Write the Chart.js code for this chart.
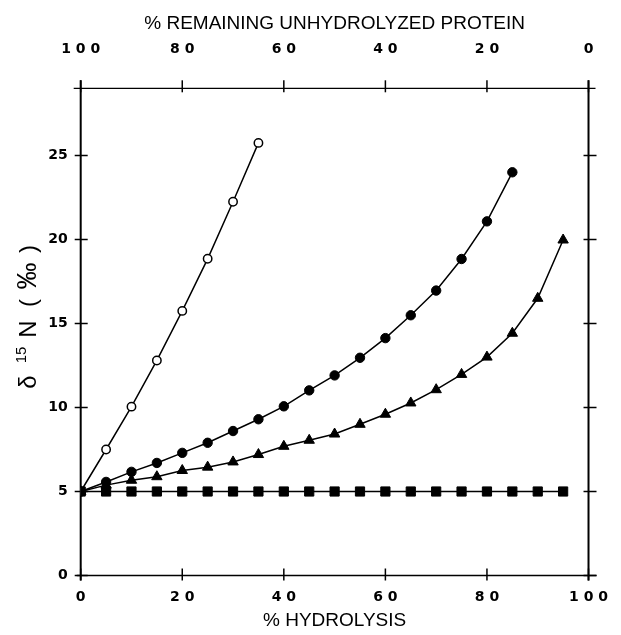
<!DOCTYPE html>
<html>
<head>
<meta charset="utf-8">
<script src="https://cdn.jsdelivr.net/npm/chart.js@4.4.0/dist/chart.umd.min.js"></script>
<style>
  html, body { margin: 0; padding: 0; background: #fff; }
</style>
</head>
<body>
<canvas id="chart" width="621" height="635"></canvas>
<script>
// % hydrolysis sampled every 5 %
var hydrolysis = [0, 5, 10, 15, 20, 25, 30, 35, 40, 45, 50, 55, 60, 65, 70, 75, 80, 85, 90, 95];

// d15N of the four curves
var openCircles = [5, 7.5, 10.05, 12.8, 15.75, 18.85, 22.25, 25.75];
var filledCircles = [5, 5.57, 6.17, 6.7, 7.3, 7.9, 8.6, 9.3, 10.07, 11.02, 11.91, 12.96, 14.13, 15.49, 16.96, 18.84, 21.08, 24.0];
var triangles = [5, 5.38, 5.67, 5.88, 6.25, 6.45, 6.76, 7.2, 7.69, 8.05, 8.42, 9.0, 9.6, 10.27, 11.06, 11.97, 13.0, 14.42, 16.5, 19.97];
var squares = [5, 5, 5, 5, 5, 5, 5, 5, 5, 5, 5, 5, 5, 5, 5, 5, 5, 5, 5, 5];

var xTicks = [0, 20, 40, 60, 80, 100];
var yTicks = [0, 5, 10, 15, 20, 25];

function points(ys) {
    return ys.map(function (y, i) { return { x: hydrolysis[i], y: y }; });
}

// "100" -> "1 0 0", like the original lettering
function spaced(v) {
    return String(v).split('').join(' ');
}

function series(ys, style, radius, fill) {
    return {
        data: points(ys),
        borderColor: '#000',
        borderWidth: 1.5,
        tension: 0,
        fill: false,
        pointStyle: style,
        pointRadius: radius,
        pointBackgroundColor: fill,
        pointBorderColor: '#000',
        pointBorderWidth: style === 'circle' && fill === '#fff' ? 1.5 : 1
    };
}

var tickFont = { family: 'DejaVu Sans', weight: 'bold', size: 14 };
var titleFont = { family: 'Liberation Sans', size: 19, lineHeight: 1.2 };

// axis frame with ticks crossing the lines
var frameTicks = {
    id: 'frameTicks',
    beforeDatasetsDraw: function (chart) {
        var ctx = chart.ctx, a = chart.chartArea, s = chart.scales;
        function seg(x1, y1, x2, y2) {
            ctx.beginPath(); ctx.moveTo(x1, y1); ctx.lineTo(x2, y2); ctx.stroke();
        }
        ctx.save();
        ctx.strokeStyle = '#000';
        ctx.lineWidth = 2;
        seg(a.left, a.top - 8, a.left, a.bottom + 5);
        seg(a.right, a.top - 8, a.right, a.bottom + 5);
        ctx.lineWidth = 1.3;
        seg(a.left - 7, a.top, a.right + 7, a.top);
        ctx.lineWidth = 1.7;
        seg(a.left - 4, a.bottom, a.right + 8, a.bottom);

        ctx.lineWidth = 1.5;
        s.x.ticks.forEach(function (t) {
            var px = s.x.getPixelForValue(t.value);
            seg(px, a.bottom - 7, px, a.bottom + 5);
        });
        s.x2.ticks.forEach(function (t) {
            var px = s.x2.getPixelForValue(t.value);
            seg(px, a.top - 8, px, a.top + 4);
        });
        s.y.ticks.forEach(function (t) {
            var py = s.y.getPixelForValue(t.value);
            seg(a.left - 6, py, a.left + 7, py);
        });
        s.y2.ticks.forEach(function (t) {
            var py = s.y2.getPixelForValue(t.value);
            seg(a.right - 5, py, a.right + 8, py);
        });
        ctx.restore();
    }
};

// rotated y title with the superscript mass number
var yTitle = {
    id: 'yTitle',
    afterDraw: function (chart) {
        var ctx = chart.ctx;
        var parts = [
            { t: 'δ', size: 24, at: 382, up: 0 },
            { t: '15', size: 15, at: 355, up: 10 },
            { t: 'N', size: 24, at: 329, up: 0 },
            { t: '(', size: 24, at: 303, up: 0 },
            { t: '‰', size: 27, at: 276, up: 0 },
            { t: ')', size: 24, at: 249, up: 0 }
        ];
        ctx.save();
        ctx.fillStyle = '#000';
        ctx.textAlign = 'center';
        ctx.textBaseline = 'alphabetic';
        parts.forEach(function (p) {
            ctx.save();
            ctx.translate(36 - p.up, p.at);
            ctx.rotate(-Math.PI / 2);
            ctx.font = p.size + 'px "Liberation Sans"';
            ctx.fillText(p.t, 0, 0);
            ctx.restore();
        });
        ctx.restore();
    }
};

new Chart(document.getElementById('chart').getContext('2d'), {
    type: 'line',
    data: {
        datasets: [
            series(squares, 'rect', 6.5, '#000'),
            series(triangles, 'triangle', 6, '#000'),
            series(filledCircles, 'circle', 4.7, '#000'),
            series(openCircles, 'circle', 4.2, '#fff')
        ]
    },
    options: {
        responsive: false,
        devicePixelRatio: 1,
        animation: false,
        layout: { padding: 0 },
        plugins: { legend: { display: false }, tooltip: { enabled: false } },
        scales: {
            x: {
                type: 'linear', position: 'bottom', min: 0, max: 100,
                afterBuildTicks: function (sc) { sc.ticks = xTicks.map(function (v) { return { value: v }; }); },
                afterFit: function (sc) { sc.height = 59.5; },
                grid: { display: false, drawTicks: false },
                border: { display: false },
                ticks: { callback: spaced, font: tickFont, color: '#000', padding: 13, maxRotation: 0, autoSkip: false },
                title: { display: true, text: '% HYDROLYSIS', font: titleFont, color: '#000', padding: { top: 0, bottom: 3 } }
            },
            x2: {
                type: 'linear', position: 'top', min: 0, max: 100, reverse: true,
                afterBuildTicks: function (sc) { sc.ticks = xTicks.map(function (v) { return { value: v }; }); },
                afterFit: function (sc) { sc.height = 88.3; },
                grid: { display: false, drawTicks: false },
                border: { display: false },
                ticks: { callback: spaced, font: tickFont, color: '#000', padding: 31, maxRotation: 0, autoSkip: false },
                title: { display: true, text: '% REMAINING UNHYDROLYZED PROTEIN', font: titleFont, color: '#000', padding: { top: 12, bottom: 0 } }
            },
            y: {
                type: 'linear', position: 'left', min: 0, max: 29,
                afterBuildTicks: function (sc) { sc.ticks = yTicks.map(function (v) { return { value: v }; }); },
                afterFit: function (sc) { sc.width = 80.7; },
                grid: { display: false, drawTicks: false },
                border: { display: false },
                ticks: { font: tickFont, color: '#000', padding: 13 }
            },
            y2: {
                type: 'linear', position: 'right', min: 0, max: 29,
                afterBuildTicks: function (sc) { sc.ticks = yTicks.map(function (v) { return { value: v }; }); },
                afterFit: function (sc) { sc.width = 22.7; },
                grid: { display: false, drawTicks: false },
                border: { display: false },
                ticks: { display: false }
            }
        }
    },
    plugins: [frameTicks, yTitle]
});
</script>
</body>
</html>
